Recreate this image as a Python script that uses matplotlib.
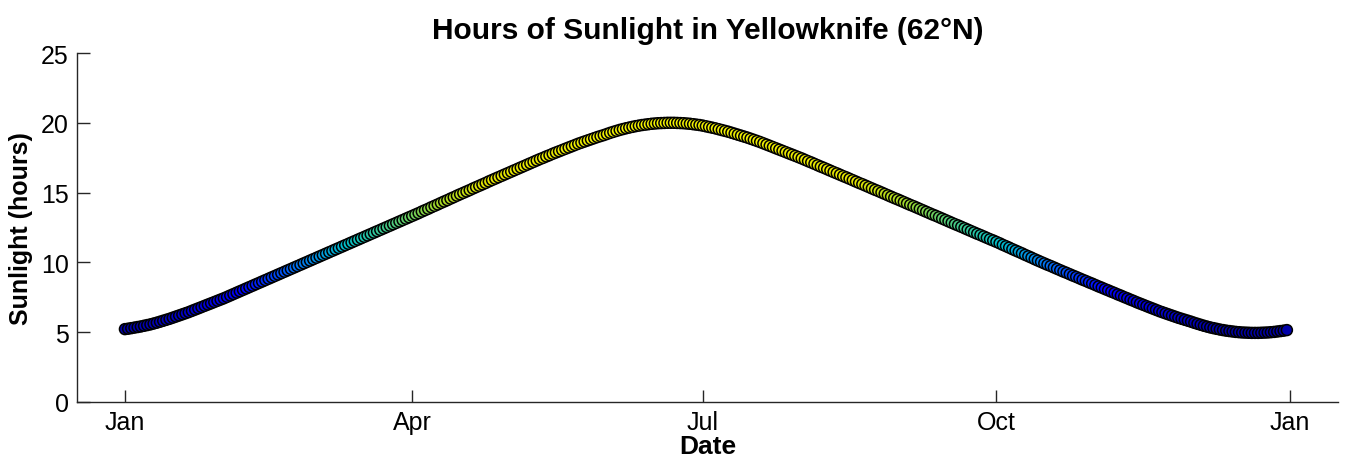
import datetime as dt
import matplotlib
matplotlib.use('Agg')
import matplotlib.pyplot as plt
import matplotlib.dates as mdates
from matplotlib.colors import LinearSegmentedColormap, Normalize

# hours of daylight, one value per day
jan = [5.22, 5.25, 5.29, 5.33, 5.37, 5.41, 5.46, 5.51, 5.56, 5.62, 5.68, 5.75, 5.82, 5.89, 5.96, 6.04,
       6.12, 6.20, 6.28, 6.36, 6.44, 6.53, 6.62, 6.71, 6.80, 6.89, 6.98, 7.07, 7.16, 7.25, 7.34]
feb = [7.43, 7.53, 7.63, 7.73, 7.83, 7.93, 8.03, 8.13, 8.23, 8.33, 8.43, 8.53, 8.63, 8.73, 8.83, 8.93,
       9.03, 9.13, 9.23, 9.33, 9.43, 9.53, 9.63, 9.73, 9.83, 9.93, 10.03, 10.13]
mar = [10.23, 10.33, 10.43, 10.53, 10.63, 10.73, 10.83, 10.93, 11.03, 11.13, 11.23, 11.33, 11.43, 11.53,
       11.63, 11.73, 11.83, 11.93, 12.03, 12.13, 12.23, 12.33, 12.43, 12.53, 12.63, 12.73, 12.83, 12.93,
       13.03, 13.13, 13.23]
apr = [13.33, 13.43, 13.53, 13.64, 13.74, 13.84, 13.95, 14.05, 14.15, 14.26, 14.36, 14.46, 14.57, 14.67,
       14.78, 14.88, 14.98, 15.08, 15.18, 15.29, 15.39, 15.49, 15.59, 15.69, 15.80, 15.90, 16.00, 16.10,
       16.20, 16.30]
may = [16.40, 16.50, 16.60, 16.70, 16.80, 16.90, 17.00, 17.10, 17.20, 17.30, 17.40, 17.49, 17.59, 17.68,
       17.78, 17.87, 17.96, 18.05, 18.14, 18.23, 18.32, 18.41, 18.50, 18.58, 18.66, 18.74, 18.82, 18.90,
       18.98, 19.05, 19.12]
jun = [19.20, 19.28, 19.35, 19.42, 19.49, 19.55, 19.61, 19.66, 19.71, 19.76, 19.80, 19.84, 19.87, 19.90,
       19.93, 19.95, 19.97, 19.98, 19.99, 20.00, 20.00, 20.00, 19.99, 19.98, 19.97, 19.95, 19.93, 19.90,
       19.87, 19.84]
jul = [19.80, 19.75, 19.70, 19.65, 19.60, 19.54, 19.48, 19.42, 19.36, 19.29, 19.22, 19.15, 19.08, 19.01,
       18.94, 18.86, 18.78, 18.70, 18.62, 18.53, 18.44, 18.35, 18.26, 18.17, 18.08, 17.99, 17.90, 17.81,
       17.72, 17.63, 17.54]
aug = [17.45, 17.35, 17.25, 17.16, 17.06, 16.96, 16.86, 16.77, 16.67, 16.57, 16.47, 16.38, 16.28, 16.18,
       16.09, 15.99, 15.89, 15.79, 15.69, 15.60, 15.50, 15.40, 15.30, 15.20, 15.11, 15.01, 14.91, 14.81,
       14.71, 14.61, 14.52]
sep = [14.42, 14.32, 14.22, 14.12, 14.03, 13.93, 13.83, 13.73, 13.63, 13.53, 13.43, 13.34, 13.24, 13.14,
       13.04, 12.94, 12.84, 12.74, 12.65, 12.55, 12.45, 12.35, 12.25, 12.15, 12.05, 11.96, 11.86, 11.76,
       11.66, 11.57]
oct_ = [11.47, 11.37, 11.26, 11.16, 11.06, 10.95, 10.85, 10.75, 10.65, 10.54, 10.44, 10.34, 10.23, 10.13,
        10.03, 9.93, 9.83, 9.74, 9.64, 9.54, 9.44, 9.34, 9.25, 9.15, 9.05, 8.96, 8.86, 8.76, 8.67, 8.57, 8.48]
nov = [8.38, 8.28, 8.19, 8.09, 8.00, 7.90, 7.81, 7.71, 7.62, 7.52, 7.43, 7.33, 7.24, 7.14, 7.05, 6.96,
       6.87, 6.78, 6.69, 6.60, 6.51, 6.43, 6.35, 6.27, 6.19, 6.11, 6.03, 5.96, 5.89, 5.82]
dec = [5.75, 5.67, 5.60, 5.53, 5.46, 5.40, 5.34, 5.29, 5.24, 5.19, 5.15, 5.11, 5.08, 5.05, 5.02, 5.00,
       4.98, 4.97, 4.96, 4.95, 4.95, 4.95, 4.96, 4.97, 4.98, 5.00, 5.02, 5.05, 5.08, 5.11, 5.15]

hours = jan + feb + mar + apr + may + jun + jul + aug + sep + oct_ + nov + dec
start = dt.date(2014, 1, 1)
dates = [start + dt.timedelta(days=i) for i in range(len(hours))]

tick_dates = [dt.date(2014, 1, 1), dt.date(2014, 4, 1), dt.date(2014, 7, 1),
              dt.date(2014, 10, 1), dt.date(2015, 1, 1)]
tick_labels = ['Jan', 'Apr', 'Jul', 'Oct', 'Jan']

# blue -> cyan -> yellow, as in the reference
cmap = LinearSegmentedColormap.from_list('sun', [
    (0.00, (0.0, 0.0, 0.65)),
    (0.20, (0.0, 0.0, 1.00)),
    (0.32, (0.0, 0.45, 0.95)),
    (0.42, (0.0, 0.75, 0.80)),
    (0.52, (0.30, 0.80, 0.50)),
    (0.62, (0.65, 0.85, 0.15)),
    (0.72, (0.90, 0.90, 0.0)),
    (1.00, (0.95, 0.95, 0.0)),
])

plt.rcParams['font.family'] = ['Liberation Sans', 'DejaVu Sans']

fig = plt.figure(figsize=(13.47, 4.64), dpi=100)
ax = fig.add_axes([0.0572, 0.1315, 0.9361, 0.7521])

ax.scatter(dates, hours, c=hours, cmap=cmap, norm=Normalize(5, 20), s=62,
           edgecolors='black', linewidths=1.1, zorder=3)

ax.set_xlim(dt.date(2013, 12, 17), dt.date(2015, 1, 16))
ax.set_ylim(0, 25)
ax.set_yticks([0, 5, 10, 15, 20, 25])
ax.set_xticks([mdates.date2num(d) for d in tick_dates])
ax.set_xticklabels(tick_labels)

for side in ['top', 'right']:
    ax.spines[side].set_visible(False)
for side in ['left', 'bottom']:
    ax.spines[side].set_linewidth(1.0)
    ax.spines[side].set_color('#262626')
ax.tick_params(direction='in', length=9, width=1.0, color='#262626', labelsize=18, pad=6)

ax.set_title('Hours of Sunlight in Yellowknife (62°N)', fontsize=21.5, fontweight='bold', pad=11)
ax.set_xlabel('Date', fontsize=19, fontweight='bold', labelpad=0)
ax.set_ylabel('Sunlight (hours)', fontsize=18, fontweight='bold', labelpad=6)

fig.savefig('out.png', dpi=100)
